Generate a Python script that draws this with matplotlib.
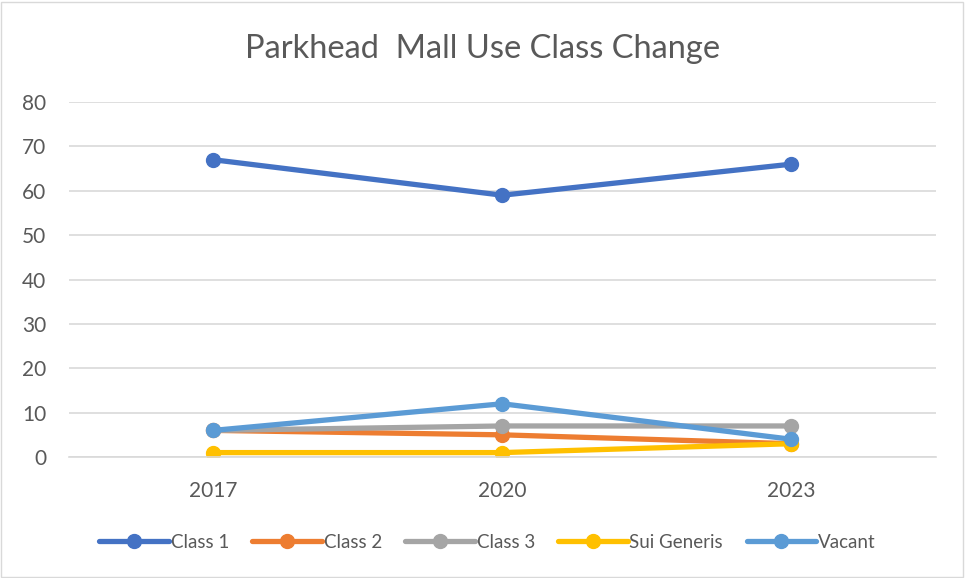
import matplotlib.pyplot as plt
from matplotlib.patches import Rectangle

years = ['2017', '2020', '2023']
class_1 = [67, 59, 66]
class_2 = [6, 5, 3]
class_3 = [6, 7, 7]
sui_generis = [1, 1, 3]
vacant = [6, 12, 4]

series = [
    ('Class 1', class_1, '#4472c4'),
    ('Class 2', class_2, '#ed7d31'),
    ('Class 3', class_3, '#a5a5a5'),
    ('Sui Generis', sui_generis, '#ffc000'),
    ('Vacant', vacant, '#5b9bd5'),
]

plt.rcParams['font.family'] = ['Lato', 'DejaVu Sans']

fig = plt.figure(figsize=(9.65, 5.78), dpi=100)
ax = fig.add_axes([0.071, 0.2093, 0.899, 0.6142])

x = list(range(len(years)))
for name, vals, color in series:
    ax.plot(x, vals, color=color, linewidth=3.8, marker='o', markersize=10,
            label=name, solid_capstyle='round')

ax.set_xlim(-0.5, 2.5)
ax.set_ylim(0, 80)
ax.set_yticks(range(0, 81, 10))
ax.set_xticks(x)
ax.set_xticklabels(years)
ax.grid(axis='y', color='#d9d9d9', linewidth=1.2)
ax.set_axisbelow(True)
for s in ['top', 'right', 'left']:
    ax.spines[s].set_visible(False)
ax.spines['bottom'].set_color('#d9d9d9')
ax.spines['bottom'].set_linewidth(1.2)
ax.tick_params(length=0, labelsize=15, colors='#595959')
ax.tick_params(axis='x', pad=17)
ax.tick_params(axis='y', pad=16)

fig.text(0.5, 0.915, 'Parkhead  Mall Use Class Change', ha='center', va='center',
         fontsize=23.5, color='#595959')

fig.legend(loc='center', bbox_to_anchor=(0.505, 0.062), ncol=5, frameon=False,
           fontsize=13.5, labelcolor='#595959', handlelength=3.7, handletextpad=0.1,
           columnspacing=1.25)

fig.patches.append(Rectangle((0.001, 0.002), 0.997, 0.995, transform=fig.transFigure,
                             fill=False, edgecolor='#d9d9d9', linewidth=1))

plt.savefig('out.png', dpi=100)
plt.close()
